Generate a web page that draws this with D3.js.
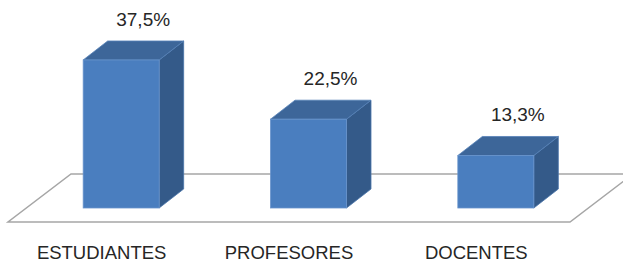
<!DOCTYPE html>
<html>
<head>
<meta charset="utf-8">
<script src="https://cdn.jsdelivr.net/npm/d3@7"></script>
<style>
  body { margin: 0; background: #fff; }
  svg { display: block; }
  text { font-family: "Liberation Sans", Arial, sans-serif; fill: #262626; }
</style>
</head>
<body>
<div id="chart"></div>
<script>
// data
const categories = ["ESTUDIANTES", "PROFESORES", "DOCENTES"];
const values = [37.5, 22.5, 13.3];
const valueLabels = ["37,5%", "22,5%", "13,3%"];

const width = 623, height = 263;

// 3d look: how far the bar front sits behind the floor edge, and bar depth
const front = { dx: 19.5, dy: -14 };
const depth = { dx: 24.5, dy: -19 };
const floorDepth = { dx: 63, dy: -48 };

const svg = d3.select("#chart")
  .append("svg")
  .attr("width", width)
  .attr("height", height);

// floor front edge is the band axis
const x = d3.scaleBand()
  .domain(categories)
  .range([8, 570])
  .paddingInner(0);

const floorY = 222;
const barW = 76;

// y measured on the bar front plane
const y = d3.scaleLinear()
  .domain([0, 40])
  .range([floorY + front.dy, floorY + front.dy - 157.9]);

// floor
const x0 = x.range()[0], x1 = x.range()[1];
svg.append("polygon")
  .attr("points", [
    [x0, floorY], [x1, floorY],
    [x1 + floorDepth.dx, floorY + floorDepth.dy],
    [x0 + floorDepth.dx, floorY + floorDepth.dy]
  ].map(p => p.join(",")).join(" "))
  .attr("fill", "#fff")
  .attr("stroke", "#a6a6a6")
  .attr("stroke-width", 1.5);

const data = categories.map((c, i) => ({ cat: c, value: values[i], label: valueLabels[i] }));

const bars = svg.selectAll("g.bar")
  .data(data)
  .join("g")
  .attr("class", "bar");

const fx = d => x(d.cat) + x.bandwidth() / 2 + front.dx - barW / 2;
const pts = arr => arr.map(p => p.join(",")).join(" ");

// side face
bars.append("polygon")
  .attr("points", d => {
    const l = fx(d) + barW, b = y(0), t = y(d.value);
    return pts([[l, b], [l + depth.dx, b + depth.dy], [l + depth.dx, t + depth.dy], [l, t]]);
  })
  .attr("fill", "#345a89")
  .attr("stroke", "#4a75aa")
  .attr("stroke-width", 0.8);

// top face
bars.append("polygon")
  .attr("points", d => {
    const l = fx(d), r = l + barW, t = y(d.value);
    return pts([[l, t], [r, t], [r + depth.dx, t + depth.dy], [l + depth.dx, t + depth.dy]]);
  })
  .attr("fill", "#3d6699")
  .attr("stroke", "#5581b8")
  .attr("stroke-width", 0.8);

// front face
bars.append("rect")
  .attr("x", d => fx(d))
  .attr("y", d => y(d.value))
  .attr("width", barW)
  .attr("height", d => y(0) - y(d.value))
  .attr("fill", "#4a7ebf")
  .attr("stroke", "#6a95cc")
  .attr("stroke-width", 0.8);

// value labels
bars.append("text")
  .attr("x", d => fx(d) + barW / 2 + 22)
  .attr("y", d => y(d.value) + depth.dy - 15)
  .attr("text-anchor", "middle")
  .attr("font-size", 19)
  .text(d => d.label);

// category labels
svg.selectAll("text.cat")
  .data(categories)
  .join("text")
  .attr("class", "cat")
  .attr("x", d => x(d) + x.bandwidth() / 2)
  .attr("y", 259)
  .attr("text-anchor", "middle")
  .attr("font-size", 18.5)
  .text(d => d);
</script>
</body>
</html>
